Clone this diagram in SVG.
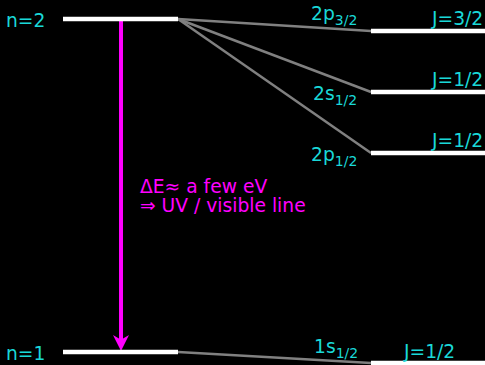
<svg xmlns="http://www.w3.org/2000/svg" width="485" height="365" viewBox="0 0 485 365">
<style>
.lvl{stroke:#fff;stroke-width:4.5;fill:none}
.con{stroke:#808080;stroke-width:2.5;fill:none}
.t{font-family:"DejaVu Sans",sans-serif;font-size:18.7px;fill:#1ad8d8}
.m{font-family:"DejaVu Sans",sans-serif;font-size:18.7px;fill:#ff00ff}
.sub{font-size:14px}
</style>
<defs>
<marker id="ah" markerWidth="4" markerHeight="4" refX="3" refY="2" orient="auto" markerUnits="strokeWidth">
<path d="M0,0 L4,2 L0,4 L1.2,2 z" fill="#ff00ff"/>
</marker>
</defs>
<rect width="485" height="365" fill="#000"/>
<g id="connectors">
<line class="con" x1="178" y1="19" x2="371" y2="31"/>
<line class="con" x1="178" y1="19" x2="371" y2="92"/>
<line class="con" x1="178" y1="19" x2="371" y2="153"/>
<line class="con" x1="178" y1="352" x2="371" y2="363"/>
<line x1="121" y1="20" x2="121" y2="347" stroke="#ff00ff" stroke-width="4" marker-end="url(#ah)"/>
</g>
<g id="n2"><line class="lvl" x1="63" y1="19" x2="178" y2="19"/><text class="t" x="6" y="27">n=2</text></g>
<g id="n1"><line class="lvl" x1="63" y1="352" x2="178" y2="352"/><text class="t" x="6" y="360">n=1</text></g>
<g id="p32"><line class="lvl" x1="371" y1="31" x2="485" y2="31"/><text class="t" x="311" y="20">2p<tspan class="sub" dy="5">3/2</tspan></text><text class="t" x="432" y="25">J=3/2</text></g>
<g id="s12"><line class="lvl" x1="371" y1="92" x2="485" y2="92"/><text class="t" x="313" y="100">2s<tspan class="sub" dy="5">1/2</tspan></text><text class="t" x="432" y="86">J=1/2</text></g>
<g id="p12"><line class="lvl" x1="371" y1="153" x2="485" y2="153"/><text class="t" x="311" y="161">2p<tspan class="sub" dy="5">1/2</tspan></text><text class="t" x="432" y="147">J=1/2</text></g>
<g id="s1"><line class="lvl" x1="371" y1="363" x2="485" y2="363"/><text class="t" x="314" y="353">1s<tspan class="sub" dy="5">1/2</tspan></text><text class="t" x="404" y="358">J=1/2</text></g>
<g id="label"><text class="m" x="140" y="193">ΔE≈ a few eV</text><text class="m" x="140" y="212">⇒ UV / visible line</text></g>
</svg>
